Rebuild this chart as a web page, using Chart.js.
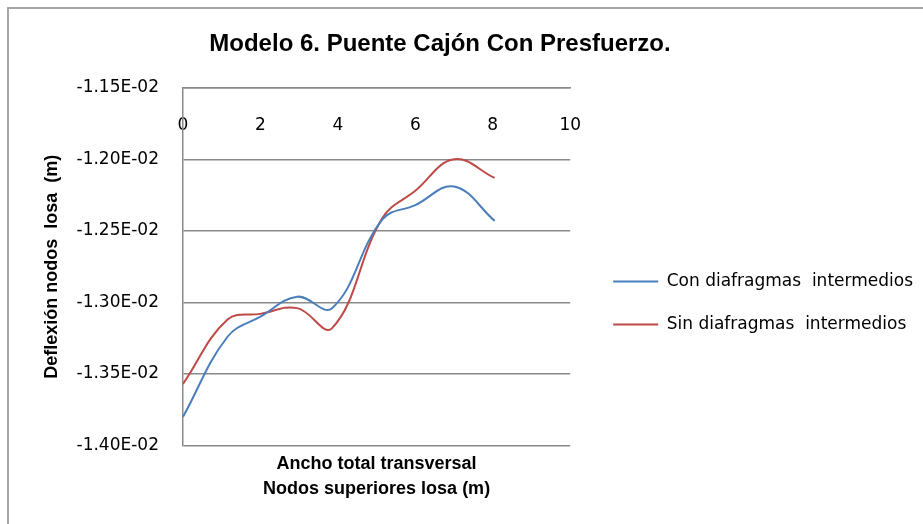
<!DOCTYPE html>
<html>
<head>
<meta charset="utf-8">
<title>Modelo 6. Puente Cajón Con Presfuerzo.</title>
<script src="https://cdn.jsdelivr.net/npm/chart.js@4/dist/chart.umd.min.js"></script>
<style>
  html, body { margin: 0; padding: 0; background: #fff; overflow: hidden; }
  #frame { position: absolute; left: 7px; top: 7px; width: 1000px; height: 600px; border: 2px solid #a6a6a6; }
  #wrap { position: absolute; left: 0; top: 0; width: 923px; height: 524px; }
</style>
</head>
<body>
<div id="frame"></div>
<div id="wrap"><canvas id="chart" width="923" height="524"></canvas></div>
<script>
// Nodos superiores de la losa (m) y deflexión en cada nodo (m)
const nodeX = [0, 1.15, 2.0, 2.95, 3.85, 5.15, 6.0, 7.0, 8.05];
const conDiafragmas = [-0.01380, -0.01324, -0.01310, -0.01296, -0.01304, -0.01242, -0.01232, -0.01219, -0.01243];
const sinDiafragmas = [-0.01357, -0.01312, -0.01308, -0.01304, -0.01318, -0.01241, -0.01222, -0.01200, -0.01213];

const xTicks = [0, 2, 4, 6, 8, 10];
const yTicks = [-0.0140, -0.0135, -0.0130, -0.0125, -0.0120, -0.0115];

const gridGray = '#8a8a8a';
const tickFont = { family: 'DejaVu Sans', size: 17 };
const boldFont = { family: 'Liberation Sans', size: 18, weight: 'bold' };

// -1.15E-02 style labels
function sci(v) {
    const parts = Number(v).toExponential(2).split('e');
    const exp = parseInt(parts[1], 10);
    return parts[0] + 'E' + (exp < 0 ? '-' : '+') + String(Math.abs(exp)).padStart(2, '0');
}

const points = ys => nodeX.map((x, i) => ({ x: x, y: ys[i] }));

Chart.defaults.font.family = 'DejaVu Sans';
Chart.defaults.color = '#000';

new Chart(document.getElementById('chart'), {
    type: 'scatter',
    data: {
        datasets: [
            {
                label: 'Con diafragmas  intermedios',
                data: points(conDiafragmas),
                showLine: true,
                tension: 0.4,
                borderColor: '#4a7ebb',
                backgroundColor: '#4a7ebb',
                borderWidth: 2,
                pointRadius: 0
            },
            {
                label: 'Sin diafragmas  intermedios',
                data: points(sinDiafragmas),
                showLine: true,
                tension: 0.4,
                borderColor: '#be4b48',
                backgroundColor: '#be4b48',
                borderWidth: 2,
                pointRadius: 0
            }
        ]
    },
    options: {
        responsive: false,
        animation: false,
        // negative left padding keeps the title centred where the legend eats the right side
        layout: { padding: { left: -43, top: 0, right: 0, bottom: 0 } },
        plugins: {
            tooltip: { enabled: false },
            title: {
                display: true,
                text: 'Modelo 6. Puente Cajón Con Presfuerzo.',
                color: '#000',
                font: { family: 'Liberation Sans', size: 24, weight: 'bold' },
                padding: { top: 30, bottom: 29 }
            },
            legend: {
                position: 'right',
                align: 'center',
                maxWidth: 400,
                title: {
                    display: true,
                    text: ' ',
                    font: { size: 10 },
                    padding: { top: 70, bottom: 0 }
                },
                labels: {
                    usePointStyle: true,
                    pointStyle: 'line',
                    pointStyleWidth: 45,
                    padding: 26,
                    color: '#000',
                    font: tickFont
                }
            }
        },
        scales: {
            // horizontal axis crosses at the top value, labels hang below it
            x: {
                type: 'linear',
                position: { y: -0.0115 },
                min: 0,
                max: 10,
                afterBuildTicks: s => { s.ticks = xTicks.map(v => ({ value: v })); },
                grid: { display: false, drawTicks: false },
                border: { display: true, color: gridGray, width: 1.5 },
                ticks: { padding: 28, font: tickFont, color: '#000' }
            },
            y: {
                type: 'linear',
                position: 'left',
                min: -0.014,
                max: -0.0115,
                afterBuildTicks: s => { s.ticks = yTicks.map(v => ({ value: v })); },
                afterFit: s => { s.width = 226; },
                grid: { color: gridGray, lineWidth: 1.5, drawTicks: false },
                border: { display: true, color: gridGray, width: 1.5 },
                ticks: { padding: 24, font: tickFont, color: '#000', callback: v => sci(v) },
                title: {
                    display: true,
                    text: 'Deflexión nodos  losa  (m)',
                    color: '#000',
                    font: boldFont,
                    padding: { top: 84, bottom: 0 }
                }
            },
            // spacer between plot and legend
            y2: {
                type: 'linear',
                position: 'right',
                display: true,
                afterFit: s => { s.width = 17; },
                grid: { display: false, drawTicks: false },
                border: { display: false },
                ticks: { display: false }
            },
            // carries the two-line title under the plot
            x2: {
                type: 'linear',
                position: 'bottom',
                display: true,
                grid: { display: false, drawTicks: false },
                border: { display: false },
                ticks: { display: false },
                title: {
                    display: true,
                    text: ['Ancho total transversal', 'Nodos superiores losa (m)'],
                    color: '#000',
                    font: { family: 'Liberation Sans', size: 18, weight: 'bold', lineHeight: 25 / 18 },
                    padding: { top: 6, bottom: 22.5 }
                }
            }
        }
    }
});
</script>
</body>
</html>
